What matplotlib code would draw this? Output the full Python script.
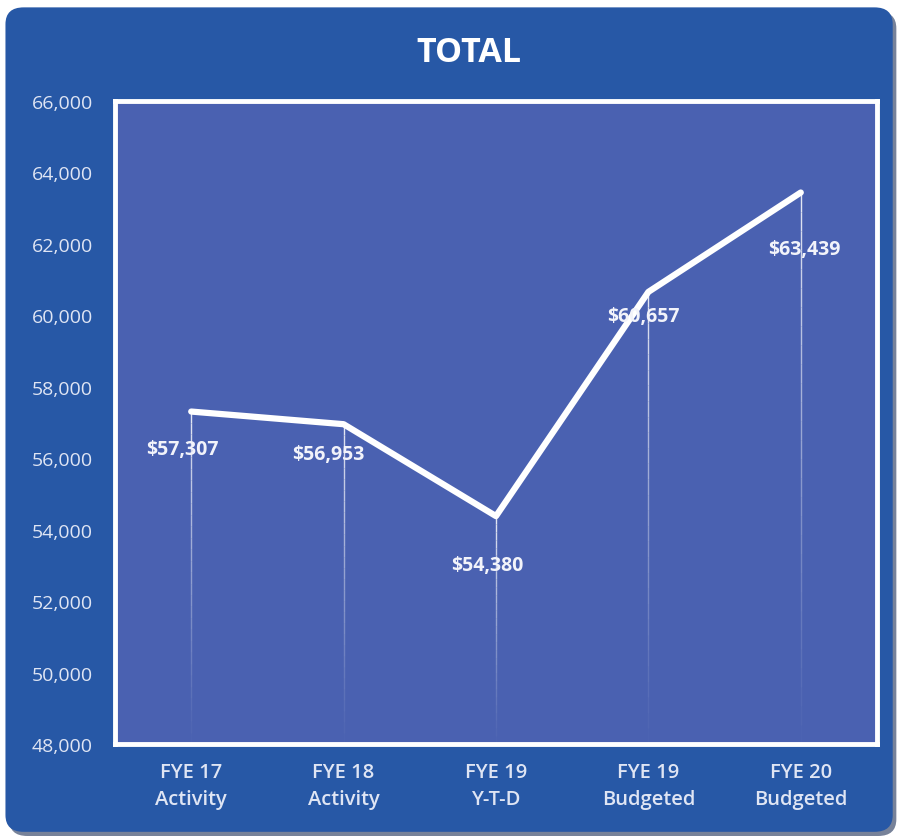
import numpy as np
import matplotlib
matplotlib.use("Agg")
import matplotlib.pyplot as plt
from matplotlib.patches import FancyBboxPatch
from matplotlib.ticker import FuncFormatter

plt.rcParams["font.family"] = ["Open Sans", "DejaVu Sans"]

# ─── data ─────────────────────────────────────────────────────────────────────
categories = ["FYE 17\nActivity", "FYE 18\nActivity", "FYE 19\nY-T-D",
              "FYE 19\nBudgeted", "FYE 20\nBudgeted"]
totals = [57307, 56953, 54380, 60657, 63439]
y_ticks = [48000, 50000, 52000, 54000, 56000, 58000, 60000, 62000, 64000, 66000]

# ─── style ────────────────────────────────────────────────────────────────────
outer_blue = "#2758a6"
inner_blue = "#4a61b1"
text_col = "#dfe5f4"
label_offsets = [(-9, -37), (-15, -30), (-9, -49), (-5, -24), (4, -56)]  # px

fig = plt.figure(figsize=(9.1, 8.37), dpi=100)
fig.patch.set_facecolor("white")

# shadow + rounded outer panel
shadow = FancyBboxPatch((0.010, 0.0), 0.975, 0.985,
                        boxstyle="round,pad=0,rounding_size=0.02",
                        transform=fig.transFigure, facecolor="#1d2f55",
                        edgecolor="none", alpha=0.6, zorder=0)
panel = FancyBboxPatch((0.006, 0.005), 0.975, 0.985,
                       boxstyle="round,pad=0,rounding_size=0.02",
                       transform=fig.transFigure, facecolor=outer_blue,
                       edgecolor="none", zorder=0.5)
fig.patches.extend([shadow, panel])

ax = fig.add_axes([0.1264, 0.1099, 0.8373, 0.7682])
ax.set_zorder(2)
ax.set_facecolor(inner_blue)
x = np.arange(len(categories))

# fading drop lines
for xi, v in zip(x, totals):
    ys = np.linspace(v, y_ticks[0], 30)
    for k in range(len(ys) - 1):
        ax.plot([xi, xi], [ys[k], ys[k + 1]], color="white",
                alpha=0.85 * (1 - k / (len(ys) - 1)) ** 1.2, lw=1.0,
                solid_capstyle="butt", zorder=2)

ax.plot(x, totals, color="white", lw=4.5, solid_joinstyle="round",
        solid_capstyle="round", zorder=3)

for xi, v, (dx, dy) in zip(x, totals, label_offsets):
    ax.annotate(f"${v:,}", (xi, v), xytext=(dx * 0.72, dy * 0.72),
                textcoords="offset points", ha="center", va="center",
                color="#f2f3fa", fontsize=14, fontweight="bold", zorder=4)

ax.set_xlim(-0.5, len(categories) - 0.5)
ax.set_ylim(y_ticks[0], y_ticks[-1])
ax.set_yticks(y_ticks)
ax.yaxis.set_major_formatter(FuncFormatter(lambda v, p: f"{int(v):,}"))
ax.set_xticks(x)
ax.set_xticklabels(categories, fontweight="semibold", linespacing=1.45)
ax.tick_params(axis="y", length=0, pad=16, colors=text_col, labelsize=14)
ax.tick_params(axis="x", length=0, pad=13, colors=text_col, labelsize=14.5)
for s in ax.spines.values():
    s.set_color("white")
    s.set_linewidth(3.5)

fig.text(0.515, 0.937, "TOTAL", ha="center", va="center", color="white",
         fontsize=24.5, fontweight="bold")

fig.savefig("out.png", dpi=100, facecolor=fig.get_facecolor())
